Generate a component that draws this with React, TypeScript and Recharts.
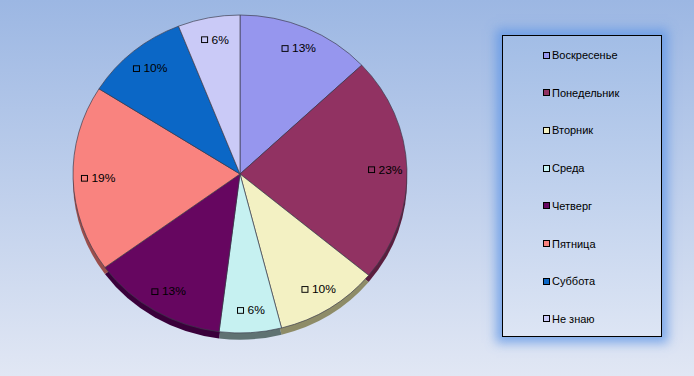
import React from 'react';
import { PieChart, Pie, Cell, Legend } from 'recharts';

// Answer shares, percent
const days = ['Воскресенье', 'Понедельник', 'Вторник', 'Среда', 'Четверг', 'Пятница', 'Суббота', 'Не знаю'];
const shares = [13, 23, 10, 6, 13, 19, 10, 6];
const colors = ['#9696EE', '#913262', '#F3F1C3', '#C6F1F1', '#660660', '#F9837F', '#0B67C6', '#CACAF7'];
const sideColors = ['#5C5C9A', '#5A1E3E', '#8E8C68', '#5F7272', '#3A003A', '#9A4E4C', '#063E78', '#7E7E9E'];

const data = days.map((name, i) => ({ name, value: shares[i] }));

const RAD = Math.PI / 180;
const FONT = '"Liberation Sans", Arial, sans-serif';

const renderLabel = (props: any) => {
  const { cx, cy, midAngle, outerRadius, value, index } = props;
  const r = outerRadius * 0.86;
  const x = cx + r * Math.cos(-midAngle * RAD);
  const y = cy + r * Math.sin(-midAngle * RAD);
  const text = `${value}%`;
  const w = 9 + text.length * 7;
  const left = x - w / 2;
  return (
    <g>
      <rect x={left} y={y - 3} width={6} height={6} fill={colors[index]} stroke="#000" strokeWidth={1} />
      <text x={left + 10} y={y + 4} fontSize={12} fontFamily={FONT} fill="#000">
        {text}
      </text>
    </g>
  );
};

const LegendBox = () => (
  <div
    style={{
      width: 160,
      height: 302,
      boxSizing: 'border-box',
      border: '1px solid #000',
      boxShadow: '0 0 10px 6px rgba(95,150,230,0.75)',
      background: 'linear-gradient(#a2bde6, #dde5f4)',
      position: 'relative',
      fontFamily: FONT,
      fontSize: 11,
      color: '#000',
    }}
  >
    {days.map((d, i) => (
      <div
        key={d}
        style={{ position: 'absolute', left: 40, top: 12 + i * 37.7, height: 14, display: 'flex', alignItems: 'center' }}
      >
        <span
          style={{
            display: 'inline-block',
            width: 5,
            height: 5,
            border: '1px solid #000',
            background: colors[i],
            marginRight: 2,
          }}
        />
        <span>{d}</span>
      </div>
    ))}
  </div>
);

export default function App() {
  return (
    <div
      className="pie-wrap"
      style={{
        position: 'absolute',
        left: 0,
        top: 0,
        width: 694,
        height: 376,
        background: 'linear-gradient(#9cb7e3, #e1e7f4)',
      }}
    >
      {/* slight 3D tilt: squash the pie vertically */}
      <style>{'.pie-wrap svg.recharts-surface{transform:scaleY(0.952);transform-origin:240px 174px}'}</style>
      <PieChart width={694} height={376} margin={{ top: 0, right: 0, bottom: 0, left: 0 }}>
        <Pie
          data={data}
          dataKey="value"
          cx={240}
          cy={181}
          outerRadius={167}
          startAngle={90}
          endAngle={-270}
          stroke="none"
          isAnimationActive={false}
          legendType="none"
        >
          {data.map((e, i) => (
            <Cell key={`s-${i}`} fill={sideColors[i]} />
          ))}
        </Pie>
        <Pie
          data={data}
          dataKey="value"
          cx={240}
          cy={174}
          outerRadius={167}
          startAngle={90}
          endAngle={-270}
          stroke="#3c3c4c"
          strokeWidth={0.7}
          label={renderLabel}
          labelLine={false}
          isAnimationActive={false}
        >
          {data.map((e, i) => (
            <Cell key={`c-${i}`} fill={colors[i]} />
          ))}
        </Pie>
        <Legend
          content={() => <LegendBox />}
          wrapperStyle={{ position: 'absolute', left: 502, top: 35, width: 160, height: 302 }}
        />
      </PieChart>
    </div>
  );
}
